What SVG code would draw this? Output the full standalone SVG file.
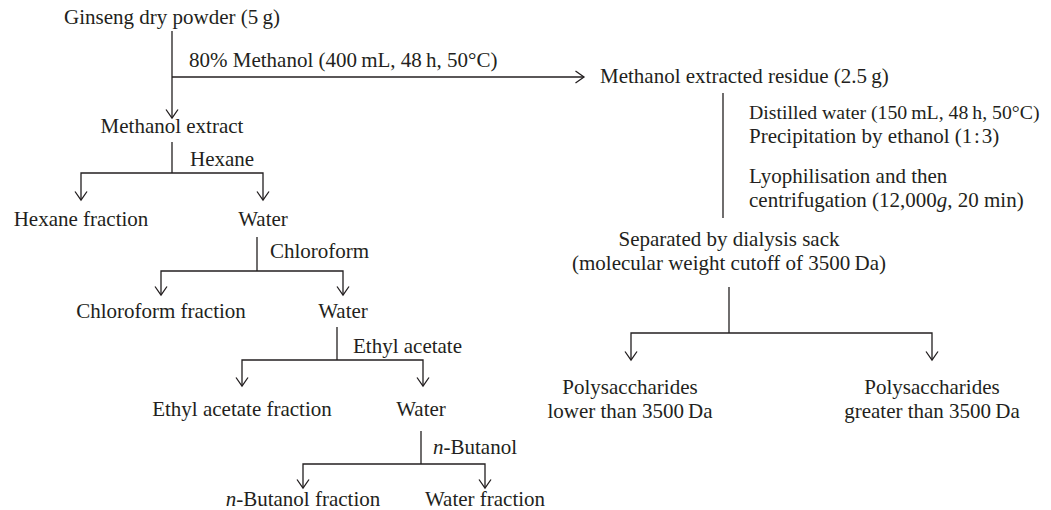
<svg xmlns="http://www.w3.org/2000/svg" width="1051" height="510" viewBox="0 0 1051 510">
<style>
text{font-family:"Liberation Serif","Times New Roman",serif;font-size:21px;fill:#231f20}
.m{text-anchor:middle}
.s{font-size:19.8px}
.c{fill:none;stroke:#231f20;stroke-width:1.3}
</style>
<defs>
<marker id="arr" viewBox="-10 -7 12 14" refX="0" refY="0" markerWidth="12" markerHeight="14" orient="auto-start-reverse" markerUnits="userSpaceOnUse">
<path d="M-8.5,-6 L0,0 L-8.5,6" fill="none" stroke="#231f20" stroke-width="1.3"/>
</marker>
</defs>
<rect width="1051" height="510" fill="#fff"/>
<g id="connectors">
<path class="c" d="M172,31 V118" marker-end="url(#arr)"/>
<path class="c" d="M172,77 H584" marker-end="url(#arr)"/>
<path class="c" d="M723,93 V218"/>
<path class="c" d="M729,287 V333"/>
<path class="c" d="M631,360 V333 H932 V360" marker-start="url(#arr)" marker-end="url(#arr)"/>
<path class="c" d="M172,142 V173"/>
<path class="c" d="M81,200 V173 H263 V200" marker-start="url(#arr)" marker-end="url(#arr)"/>
<path class="c" d="M257,237 V271"/>
<path class="c" d="M161,295 V271 H343 V295" marker-start="url(#arr)" marker-end="url(#arr)"/>
<path class="c" d="M337,327 V360"/>
<path class="c" d="M242,386 V360 H423 V386" marker-start="url(#arr)" marker-end="url(#arr)"/>
<path class="c" d="M421,431 V464"/>
<path class="c" d="M303,488 V464 H485 V488" marker-start="url(#arr)" marker-end="url(#arr)"/>
</g>
<g id="ginseng"><text class="m" x="172" y="24">Ginseng dry powder (5&#8201;g)</text></g>
<g id="step-methanol"><text x="189" y="67">80% Methanol (400&#8201;mL, 48&#8201;h, 50°C)</text></g>
<g id="residue"><text x="600" y="83">Methanol extracted residue (2.5&#8201;g)</text></g>
<g id="step-water">
<text class="s" x="749" y="119">Distilled water (150&#8201;mL, 48&#8201;h, 50°C)</text>
<text x="749" y="143">Precipitation by ethanol (1&#8202;:&#8202;3)</text>
<text x="749" y="183">Lyophilisation and then</text>
<text x="749" y="207">centrifugation (12,000<tspan font-style="italic">g</tspan>, 20 min)</text>
</g>
<g id="dialysis">
<text class="m" x="729" y="246">Separated by dialysis sack</text>
<text class="m" x="729" y="270">(molecular weight cutoff of 3500&#8201;Da)</text>
</g>
<g id="poly-low">
<text class="m" x="630" y="394">Polysaccharides</text>
<text class="m" x="630" y="418">lower than 3500&#8201;Da</text>
</g>
<g id="poly-high">
<text class="m" x="932" y="394">Polysaccharides</text>
<text class="m" x="932" y="418">greater than 3500&#8201;Da</text>
</g>
<g id="methanol-extract"><text class="m" x="172" y="133">Methanol extract</text></g>
<g id="label-hexane"><text x="190" y="166">Hexane</text></g>
<g id="hexane-fraction"><text class="m" x="81" y="226">Hexane fraction</text></g>
<g id="water1"><text class="m" x="263" y="226">Water</text></g>
<g id="label-chloroform"><text x="270" y="258">Chloroform</text></g>
<g id="chloroform-fraction"><text class="m" x="161" y="318">Chloroform fraction</text></g>
<g id="water2"><text class="m" x="343" y="318">Water</text></g>
<g id="label-ethyl"><text x="353" y="353">Ethyl acetate</text></g>
<g id="ethyl-fraction"><text class="m" x="242" y="416">Ethyl acetate fraction</text></g>
<g id="water3"><text class="m" x="421" y="416">Water</text></g>
<g id="label-butanol"><text x="433" y="454"><tspan font-style="italic">n</tspan>-Butanol</text></g>
<g id="butanol-fraction"><text class="m" x="303" y="506"><tspan font-style="italic">n</tspan>-Butanol fraction</text></g>
<g id="water-fraction"><text class="m" x="485" y="506">Water fraction</text></g>
</svg>
